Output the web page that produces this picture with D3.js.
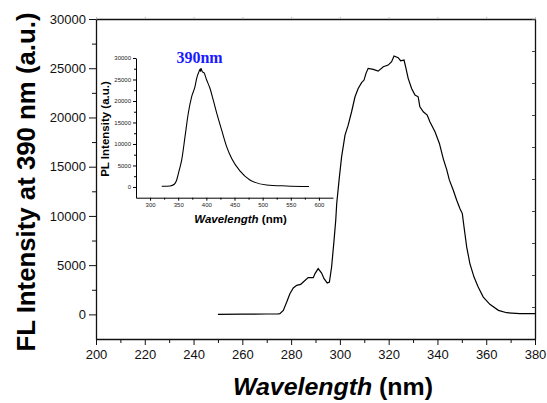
<!DOCTYPE html>
<html>
<head>
    <title>FL Intensity at 390 nm</title>
    <script src="https://cdnjs.cloudflare.com/ajax/libs/d3/7.8.5/d3.min.js"></script>
    <style>
        body {
            margin: 0;
            background: white;
            font-family: Arial, "Liberation Sans", sans-serif;
        }
        .axis path, .axis line {
            stroke: #111;
        }
    </style>
</head>
<body>
    <div id="chart"></div>

    <script>
        // Main excitation spectrum
        const mainWavelength = [250, 260, 270, 274.6, 275.4, 276.8, 278.2, 279.5, 280.9, 282.3, 283.9, 285.0, 287.0, 289.1,
            289.8, 291.1, 292.5, 293.5, 294.8, 295.7, 296.6, 297.6, 298.3, 298.7, 299.8, 300.7, 302.1, 303.4, 304.8,
            306.2, 307.5, 308.9, 309.9, 310.7, 311.6, 313.7, 315.7, 317.8, 319.8, 321.2, 322.2, 323.9, 324.9, 326.3,
            327.1, 328.0, 329.4, 330.8, 332.1, 332.8, 334.2, 335.8, 336.9, 339.0, 340.8, 342.4, 343.8, 344.9, 346.5,
            347.9, 349.2, 350.2, 350.9, 352.0, 353.3, 355.0, 356.7, 358.8, 361.5, 365.0, 368.4, 373.8, 380];
        const mainIntensity = [0, 20, 40, 50, 70, 400, 1250, 2100, 2680, 2950, 3050, 3290, 3730, 3730,
            4140, 4650, 4200, 3630, 3190, 3290, 4810, 7520, 9560, 11260, 13960, 16000, 18200, 19220, 20580,
            22100, 22950, 23530, 23800, 24480, 24990, 24890, 24710, 25150, 25320, 25660, 26240, 26070, 25760, 25830,
            24990, 23970, 22950, 22270, 22100, 21080, 20580, 20240, 19560, 18540, 17360, 15800, 14700, 13630, 12610,
            11590, 10750, 10240, 8880, 6840, 5160, 3790, 2780, 1760, 1020, 410, 170, 70, 70];

        // Inset emission spectrum
        const insetWavelength = [320.7, 335.5, 343.1, 347.3, 351.9, 356.2, 362.1, 367.9, 373.9, 379.8, 382.8, 386.9,
            388.7, 389.5, 390.4, 392.7, 395.7, 400.5, 406.4, 412.2, 419.3, 427.1, 436.0, 445.0, 459.6, 477.3, 506.9,
            542.4, 582.4];
        const insetIntensity = [150, 230, 630, 1630, 3950, 6280, 11700, 17140, 21000, 23330, 25280, 26820,
            27380, 26900, 27610, 26820, 26590, 24890, 22960, 20240, 16750, 13260, 9370, 6600, 3720, 1630, 465,
            230, 100];

        // Ticks
        const mainXTicks = [200, 220, 240, 260, 280, 300, 320, 340, 360, 380];
        const mainYTicks = [0, 5000, 10000, 15000, 20000, 25000, 30000];
        const insetXTicks = [300, 350, 400, 450, 500, 550, 600];
        const insetYTicks = [0, 5000, 10000, 15000, 20000, 25000, 30000];

        const width = 547;
        const height = 403;
        const margin = { top: 19, right: 12, bottom: 64, left: 96 };
        const fontSans = "Arial, 'Liberation Sans', sans-serif";

        const svg = d3.select("#chart")
            .append("svg")
            .attr("width", width)
            .attr("height", height);

        // Main scales
        const x = d3.scaleLinear().domain([200, 380]).range([margin.left, width - margin.right]);
        const y = d3.scaleLinear().domain([-2500, 30000]).range([height - margin.bottom, margin.top]);

        // Minor ticks first
        svg.append("g")
            .attr("class", "axis")
            .attr("transform", `translate(0,${y(-2500)})`)
            .call(d3.axisBottom(x).tickValues(d3.range(210, 380, 20)).tickSize(4).tickFormat(""))
            .call(g => g.select(".domain").remove());
        svg.append("g")
            .attr("class", "axis")
            .attr("transform", `translate(${x(200)},0)`)
            .call(d3.axisLeft(y).tickValues(d3.range(2500, 30000, 5000)).tickSize(4).tickFormat(""))
            .call(g => g.select(".domain").remove());

        // Top and right frame with faint ticks
        svg.append("g")
            .attr("transform", `translate(0,${y(30000)})`)
            .call(d3.axisTop(x).ticks(10).tickSize(2).tickFormat("").tickSizeOuter(0))
            .call(g => g.selectAll(".tick line").attr("stroke", "#bbb"))
            .call(g => g.select(".domain").attr("stroke", "#111").attr("stroke-width", 1.3));

        const yRight = d3.scaleLinear().domain([0, 10]).range([height - margin.bottom, margin.top]);
        svg.append("g")
            .attr("transform", `translate(${x(380)},0)`)
            .call(d3.axisLeft(yRight).ticks(10).tickSize(3).tickFormat("").tickSizeOuter(0))
            .call(g => g.selectAll(".tick line").attr("stroke", "#444"))
            .call(g => g.select(".domain").attr("stroke", "#111").attr("stroke-width", 1.3));

        // Major axes
        const xAxis = svg.append("g")
            .attr("class", "axis")
            .attr("font-family", fontSans)
            .attr("transform", `translate(0,${y(-2500)})`)
            .call(d3.axisBottom(x).tickValues(mainXTicks).tickFormat(d3.format("d"))
                .tickSize(6).tickSizeOuter(0).tickPadding(5));
        xAxis.select(".domain").attr("stroke-width", 1.3);
        xAxis.selectAll("text").attr("font-size", 13).attr("fill", "#111");

        const yAxis = svg.append("g")
            .attr("class", "axis")
            .attr("font-family", fontSans)
            .attr("transform", `translate(${x(200)},0)`)
            .call(d3.axisLeft(y).tickValues(mainYTicks).tickFormat(d3.format("d"))
                .tickSize(7).tickSizeOuter(0).tickPadding(3));
        yAxis.select(".domain").attr("stroke-width", 1.3);
        yAxis.selectAll("text").attr("font-size", 13).attr("fill", "#111");

        // Main curve
        const mainLine = d3.line()
            .x(i => x(mainWavelength[i]))
            .y(i => y(mainIntensity[i]));
        svg.append("path")
            .attr("d", mainLine(d3.range(mainWavelength.length)))
            .attr("fill", "none")
            .attr("stroke", "#000")
            .attr("stroke-width", 1.2);

        // Axis titles
        const xTitle = svg.append("text")
            .attr("x", 333)
            .attr("y", 395)
            .attr("text-anchor", "middle")
            .attr("font-size", 24)
            .attr("font-weight", "bold")
            .attr("textLength", 200)
            .attr("lengthAdjust", "spacingAndGlyphs");
        xTitle.append("tspan").attr("font-style", "italic").text("Wavelength");
        xTitle.append("tspan").text(" (nm)");

        svg.append("text")
            .attr("transform", "translate(35,182) rotate(-90)")
            .attr("text-anchor", "middle")
            .attr("font-size", 26)
            .attr("font-weight", "bold")
            .attr("textLength", 339)
            .attr("lengthAdjust", "spacingAndGlyphs")
            .text("FL Intensity at 390 nm (a.u.)");

        // ---- Inset ----
        const ix = d3.scaleLinear().domain([275, 625]).range([136, 333]);
        const iy = d3.scaleLinear().domain([-2500, 30000]).range([197.7, 58]);

        svg.append("g")
            .attr("transform", `translate(0,${iy(-2500)})`)
            .call(d3.axisBottom(ix).tickValues(d3.range(325, 625, 50)).tickSize(2).tickFormat(""))
            .call(g => g.select(".domain").remove());
        svg.append("g")
            .attr("transform", `translate(${ix(275)},0)`)
            .call(d3.axisLeft(iy).tickValues(d3.range(2500, 30000, 5000)).tickSize(2).tickFormat(""))
            .call(g => g.select(".domain").remove());

        const ixAxis = svg.append("g")
            .attr("font-family", fontSans)
            .attr("transform", `translate(0,${iy(-2500)})`)
            .call(d3.axisBottom(ix).tickValues(insetXTicks).tickFormat(d3.format("d"))
                .tickSize(3).tickSizeOuter(0).tickPadding(2));
        ixAxis.selectAll("text").attr("font-size", 6).attr("fill", "#222");

        const iyAxis = svg.append("g")
            .attr("font-family", fontSans)
            .attr("transform", `translate(${ix(275)},0)`)
            .call(d3.axisLeft(iy).tickValues(insetYTicks).tickFormat(d3.format("d"))
                .tickSize(3).tickSizeOuter(0).tickPadding(2));
        iyAxis.selectAll("text").attr("font-size", 6).attr("fill", "#222");

        const insetLine = d3.line()
            .x(i => ix(insetWavelength[i]))
            .y(i => iy(insetIntensity[i]))
            .curve(d3.curveMonotoneX);
        svg.append("path")
            .attr("d", insetLine(d3.range(insetWavelength.length)))
            .attr("fill", "none")
            .attr("stroke", "#000")
            .attr("stroke-width", 1.1);

        const ixTitle = svg.append("text")
            .attr("x", 240.5)
            .attr("y", 223)
            .attr("text-anchor", "middle")
            .attr("font-size", 11.5)
            .attr("font-weight", "bold");
        ixTitle.append("tspan").attr("font-style", "italic").text("Wavelength");
        ixTitle.append("tspan").text(" (nm)");

        svg.append("text")
            .attr("transform", "translate(109,129) rotate(-90)")
            .attr("text-anchor", "middle")
            .attr("font-size", 11.5)
            .attr("font-weight", "bold")
            .text("PL Intensity (a.u.)");

        svg.append("text")
            .attr("x", 199.5)
            .attr("y", 63)
            .attr("text-anchor", "middle")
            .attr("font-family", "'Liberation Serif', 'Times New Roman', serif")
            .attr("font-size", 16)
            .attr("font-weight", "bold")
            .attr("fill", "#1a1aff")
            .text("390nm");
    </script>
</body>
</html>
